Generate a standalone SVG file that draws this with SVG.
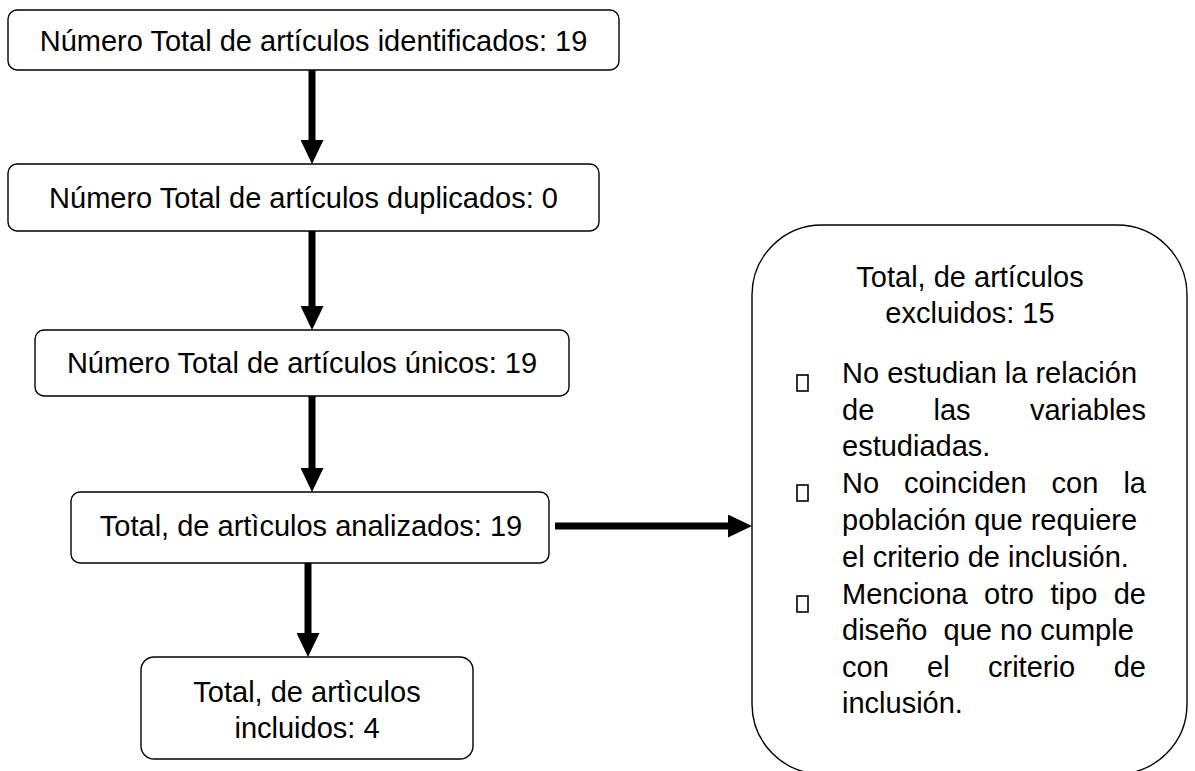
<svg xmlns="http://www.w3.org/2000/svg" width="1195" height="771" viewBox="0 0 1195 771">
<style>
.box{fill:#fff;stroke:#000;stroke-width:1.4}
.t{font-family:"Liberation Sans",Arial,sans-serif;font-size:29px;fill:#000}
.c{text-anchor:middle}
.e{text-anchor:end}
.conn{stroke:#000;stroke-width:7;fill:none}
.bul{fill:none;stroke:#000;stroke-width:1.6}
</style>
<defs>
<marker id="ah" viewBox="0 0 24 23" refX="0" refY="11.5" markerWidth="24" markerHeight="23" markerUnits="userSpaceOnUse" orient="auto">
<path d="M0,0 L24,11.5 L0,23 z" fill="#000"/>
</marker>
</defs>
<rect width="1195" height="771" fill="#fff"/>
<g id="connectors">
<line class="conn" x1="312" y1="70" x2="312" y2="140" marker-end="url(#ah)"/>
<line class="conn" x1="312" y1="231" x2="312" y2="306" marker-end="url(#ah)"/>
<line class="conn" x1="312" y1="396" x2="312" y2="468" marker-end="url(#ah)"/>
<line class="conn" x1="308" y1="563" x2="308" y2="633" marker-end="url(#ah)"/>
<line class="conn" x1="555" y1="526" x2="728" y2="526" marker-end="url(#ah)"/>
</g>
<g id="n1">
<rect class="box" x="8" y="10" width="611" height="60" rx="9"/>
<text class="t c" x="313.5" y="51">Número Total de artículos identificados: 19</text>
</g>
<g id="n2">
<rect class="box" x="8" y="164" width="591" height="67" rx="9"/>
<text class="t c" x="303.5" y="208">Número Total de artículos duplicados: 0</text>
</g>
<g id="n3">
<rect class="box" x="35" y="330" width="534" height="66" rx="9"/>
<text class="t c" x="302" y="373">Número Total de artículos únicos: 19</text>
</g>
<g id="n4">
<rect class="box" x="71" y="492" width="478" height="71" rx="9"/>
<text class="t c" x="311" y="536">Total, de artìculos analizados: 19</text>
</g>
<g id="n5">
<rect class="box" x="141" y="657" width="332" height="102" rx="13"/>
<text class="t c" x="307" y="702">Total, de artìculos</text>
<text class="t c" x="307" y="738">incluidos: 4</text>
</g>
<g id="n6">
<rect class="box" x="752" y="225" width="435" height="549" rx="70"/>
<text class="t c" x="970" y="287">Total, de artículos</text>
<text class="t c" x="970" y="323">excluidos: 15</text>
<rect class="bul" x="797" y="375" width="11" height="16"/>
<rect class="bul" x="797" y="485" width="11" height="16"/>
<rect class="bul" x="797" y="596" width="11" height="16"/>
<text class="t" x="842" y="383">No estudian la relación</text>
<text class="t"><tspan x="842" y="420">de</tspan><tspan x="933.5" y="420">las</tspan><tspan class="e" x="1146" y="420">variables</tspan></text>
<text class="t" x="842" y="456">estudiadas.</text>
<text class="t"><tspan x="842" y="493">No</tspan><tspan x="904" y="493">coinciden</tspan><tspan x="1051.5" y="493">con</tspan><tspan class="e" x="1146" y="493">la</tspan></text>
<text class="t" x="842" y="530">población que requiere</text>
<text class="t" x="842" y="567">el criterio de inclusión.</text>
<text class="t"><tspan x="842" y="604">Menciona</tspan><tspan x="984" y="604">otro</tspan><tspan x="1050.5" y="604">tipo</tspan><tspan class="e" x="1146" y="604">de</tspan></text>
<text class="t" x="842" y="640" xml:space="preserve">diseño  que no cumple</text>
<text class="t"><tspan x="842" y="677">con</tspan><tspan x="927" y="677">el</tspan><tspan x="988" y="677">criterio</tspan><tspan class="e" x="1146" y="677">de</tspan></text>
<text class="t" x="842" y="713">inclusión.</text>
</g>
</svg>
